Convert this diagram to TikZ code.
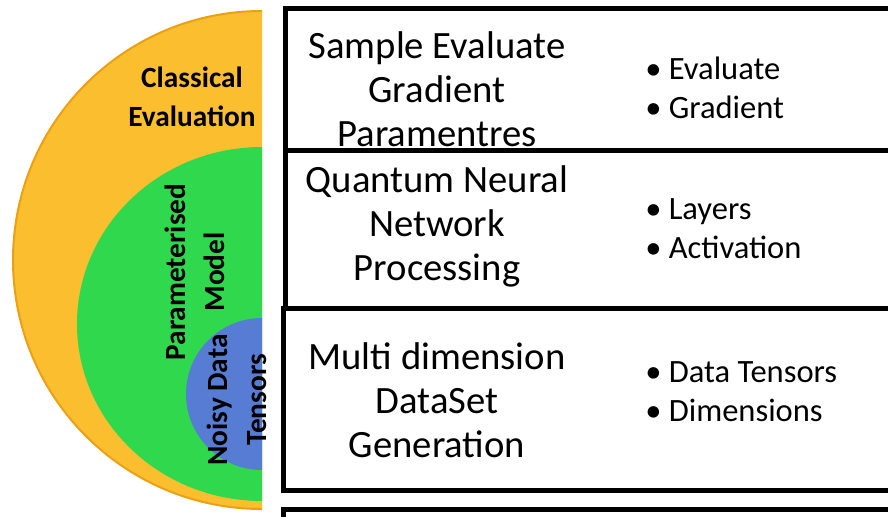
\documentclass[tikz,border=0pt]{standalone}
\usepackage{fontspec}
\setmainfont{Carlito}
\usepackage{xcolor}
\usepackage{tikz}

\definecolor{classical}{RGB}{251,190,46}
\definecolor{classicalrim}{RGB}{236,160,20}
\definecolor{model}{RGB}{48,216,78}
\definecolor{tensor}{RGB}{86,124,212}

\tikzset{
	disclabel/.style={align=center, inner sep=0pt, font=\bfseries\fontsize{22}{29}\selectfont},
	boxline/.style={line width=3.75pt},
	title/.style={align=center, inner sep=0pt, font=\fontsize{29}{33}\selectfont},
	points/.style={align=left, inner sep=0pt, anchor=west, font=\fontsize{24.4}{29}\selectfont}
}

\begin{document}
\begin{tikzpicture}[x=0.75pt,y=-0.75pt]
	\useasboundingbox (0,0) rectangle (888,517);
	% the three half discs
	\begin{scope}
		\clip (0,0) rectangle (262,517);
		\filldraw[fill=classical, draw=classicalrim, line width=1.5pt] (262,260) circle (249);
		\fill[model] (262,324) ellipse (185 and 177);
		\fill[tensor] (262,394) circle (76);
	\end{scope}
	\node[disclabel] (classical) at (192,97) {Classical\\Evaluation};
	\node[disclabel, rotate=90] (model) at (195,272) {Parameterised\\Model};
	\node[disclabel, rotate=90] (tensors) at (237,400) {Noisy Data\\Tensors};

	% the boxes on the right
	\draw[boxline] (285,9) rectangle (900,150);
	\draw[boxline] (285,150) rectangle (900,308);
	\draw[boxline] (283,308) rectangle (900,490);
	\draw[boxline] (283,509) rectangle (900,540);

	\node[title] (sample) at (437,89) {Sample Evaluate\\Gradient\\Paramentres};
	\node[points] (sample items) at (645,88) {• Evaluate\\• Gradient};

	\node[title] (quantum) at (437,226) {Quantum Neural\\Network\\Processing};
	\node[points] (quantum items) at (645,229) {• Layers\\• Activation};

	\node[title] (dataset) at (437,400) {Multi dimension\\DataSet\\Generation};
	\node[points] (dataset items) at (645,392) {• Data Tensors\\• Dimensions};
\end{tikzpicture}
\end{document}
